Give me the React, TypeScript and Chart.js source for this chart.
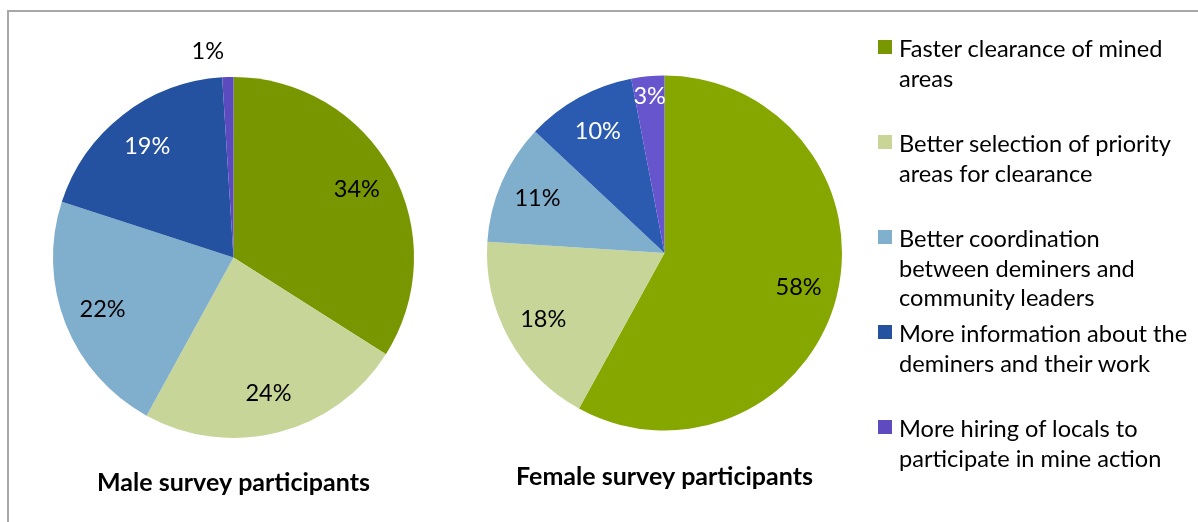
import React, { useEffect, useRef } from "react";
import { Chart, registerables } from "chart.js";

Chart.register(...registerables);

const legendLines: string[][] = [
  ["Faster clearance of mined", "areas"],
  ["Better selection of priority", "areas for clearance"],
  ["Better coordination", "between deminers and", "community leaders"],
  ["More information about the", "deminers and their work"],
  ["More hiring of locals to", "participate in mine action"],
];
const categories: string[] = legendLines.map((l) => l.join(" "));

const maleValues: number[] = [34, 24, 22, 19, 1];
const femaleValues: number[] = [58, 18, 11, 10, 3];

const maleTitle = "Male survey participants";
const femaleTitle = "Female survey participants";

const maleColors = ["#789600", "#c7d598", "#80aecd", "#2452a0", "#5b4bbf"];
const femaleColors = ["#86a600", "#c7d598", "#80aecd", "#2a5bb0", "#6655cc"];
const legendColors = ["#789600", "#c8d597", "#80b0ce", "#2452a0", "#5f4bbf"];
const labelColors = ["#000000", "#000000", "#000000", "#ffffff", "#ffffff"];

const FONT = "Lato";

const pieLabelPlugin = {
  id: "pieLabels",
  afterDatasetsDraw(chart: any) {
    const ctx = chart.ctx;
    const meta = chart.getDatasetMeta(0);
    const data: number[] = chart.data.datasets[0].data;
    const total = data.reduce((a: number, b: number) => a + b, 0);
    ctx.save();
    ctx.font = `23.5px ${FONT}`;
    ctx.textBaseline = "middle";
    meta.data.forEach((arc: any, i: number) => {
      const p = arc.getProps(["startAngle", "endAngle", "outerRadius", "x", "y"], true);
      const mid = (p.startAngle + p.endAngle) / 2;
      const pct = (data[i] / total) * 100;
      const text = `${Math.round(pct)}%`;
      if (pct < 2) {
        const r = p.outerRadius * 1.14;
        const x = p.x + Math.cos(mid) * r;
        const y = p.y + Math.sin(mid) * r;
        ctx.fillStyle = "#000000";
        ctx.textAlign = "right";
        ctx.fillText(text, x - 3, y);
      } else {
        const r = p.outerRadius * (pct < 5 ? 0.885 : 0.78);
        const x = p.x + Math.cos(mid) * r;
        const y = p.y + Math.sin(mid) * r;
        ctx.fillStyle = labelColors[i];
        ctx.textAlign = "center";
        ctx.fillText(text, x, y);
      }
    });
    ctx.restore();
  },
};

type PieProps = {
  values: number[];
  colors: string[];
  title: string;
  left: number;
  width: number;
  padding: { left: number; right: number; top: number };
  titlePad: { top: number; bottom: number };
};

function Pie({ values, colors, title, left, width, padding, titlePad }: PieProps) {
  const ref = useRef<HTMLCanvasElement>(null);
  useEffect(() => {
    if (!ref.current) return;
    const chart = new Chart(ref.current, {
      type: "pie",
      data: {
        labels: categories,
        datasets: [
          {
            data: values,
            backgroundColor: colors,
            borderWidth: 0,
            hoverOffset: 0,
            offset: 0,
          },
        ],
      },
      options: {
        responsive: false,
        animation: false,
        layout: { padding: { left: padding.left, right: padding.right, top: padding.top, bottom: 0 } },
        plugins: {
          legend: { display: false },
          tooltip: { enabled: false },
          title: {
            display: true,
            text: title,
            position: "bottom",
            color: "#000000",
            font: { family: FONT, size: 25, weight: "bold", lineHeight: 1.2 },
            padding: { top: titlePad.top, bottom: titlePad.bottom },
          },
        },
      },
      plugins: [pieLabelPlugin],
    });
    return () => chart.destroy();
  }, []);
  return (
    <canvas
      ref={ref}
      width={width}
      height={522}
      style={{ position: "absolute", left, top: 0, width, height: 522, display: "block" }}
    />
  );
}

export default function App() {
  return (
    <div
      style={{
        position: "absolute",
        left: 0,
        top: 0,
        width: 1198,
        height: 522,
        overflow: "hidden",
        background: "#ffffff",
        fontFamily: FONT,
      }}
    >
      <div
        style={{
          position: "absolute",
          left: 7,
          top: 10,
          width: 1220,
          height: 540,
          border: "2px solid #a8a8a8",
        }}
      />
      <Pie
        values={maleValues}
        colors={maleColors}
        title={maleTitle}
        left={0}
        width={470}
        padding={{ left: 53, right: 56, top: 77 }}
        titlePad={{ top: 30, bottom: 24 }}
      />
      <Pie
        values={femaleValues}
        colors={femaleColors}
        title={femaleTitle}
        left={470}
        width={420}
        padding={{ left: 17, right: 48, top: 75.5 }}
        titlePad={{ top: 31.5, bottom: 30 }}
      />
      {legendLines.map((lines, i) => (
        <div key={i} style={{ position: "absolute", left: 878, top: 40 + i * 95 }}>
          <div
            style={{
              position: "absolute",
              left: 0,
              top: 0,
              width: 14,
              height: 14,
              background: legendColors[i],
            }}
          />
          <div
            style={{
              position: "absolute",
              left: 21,
              top: -6,
              fontSize: 23.6,
              lineHeight: "29.5px",
              color: "#000000",
              whiteSpace: "nowrap",
            }}
          >
            {lines.map((l, j) => (
              <div key={j}>{l}</div>
            ))}
          </div>
        </div>
      ))}
    </div>
  );
}
